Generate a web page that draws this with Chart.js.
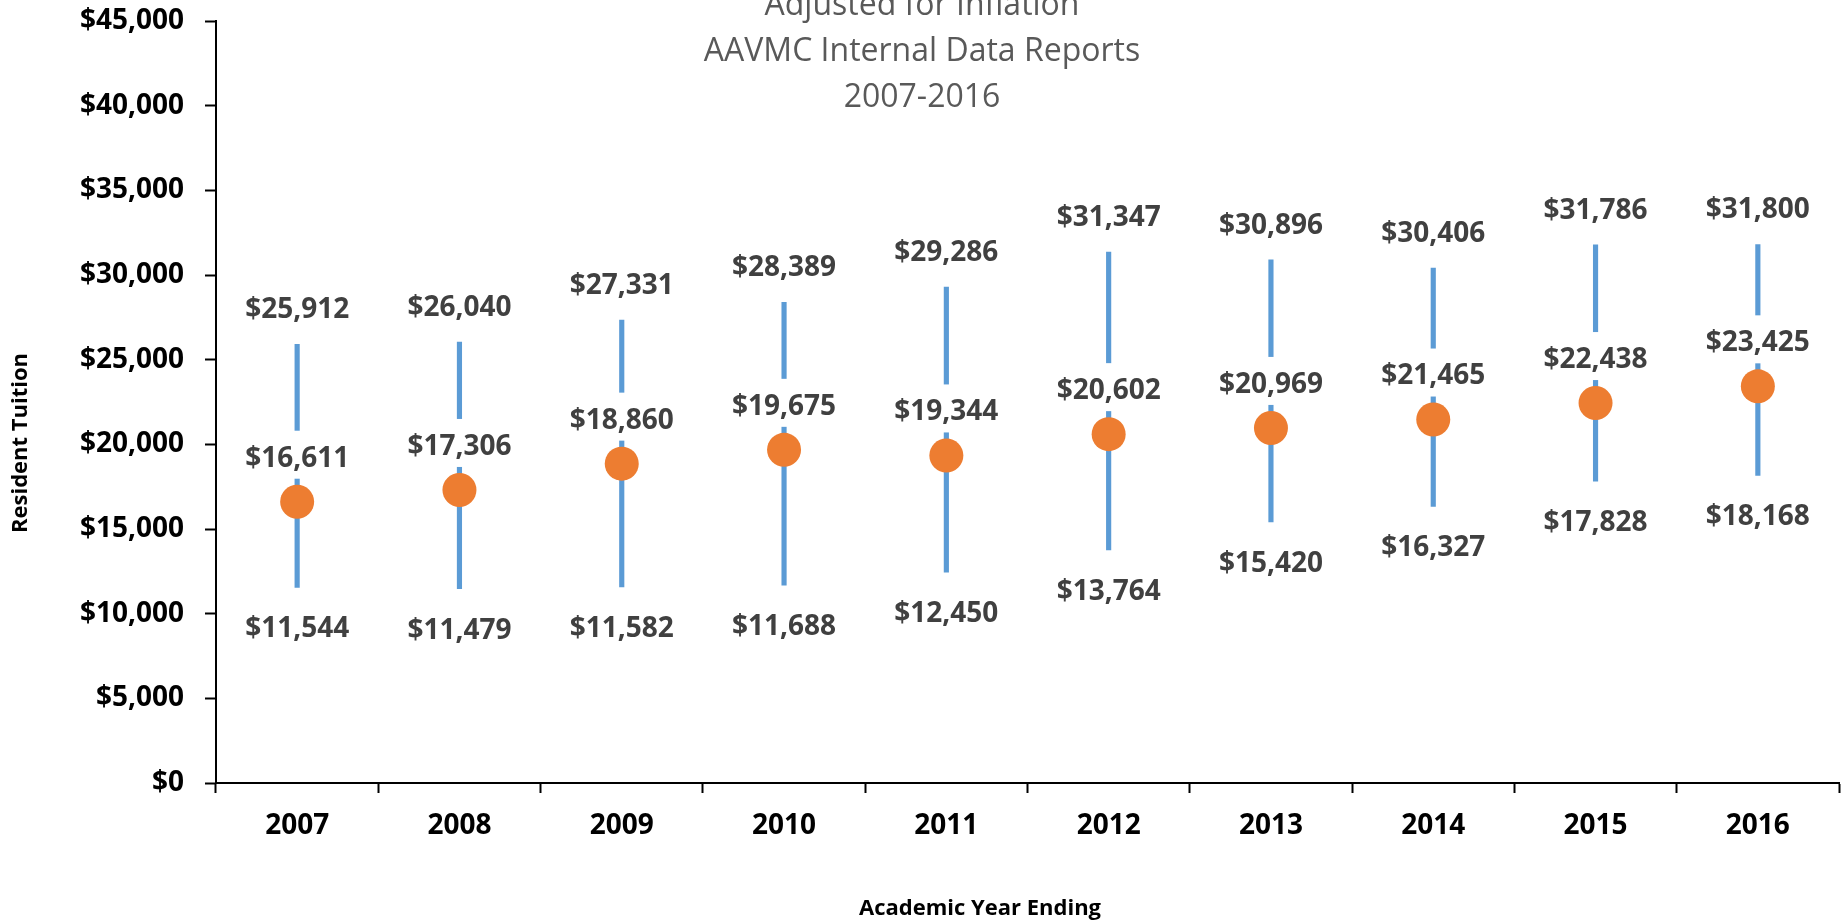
<!DOCTYPE html>
<html>
<head>
<meta charset="utf-8">
<script src="https://cdn.jsdelivr.net/npm/chart.js@4"></script>
<style>
  html, body { margin: 0; padding: 0; background: #fff; }
  #wrap { width: 1845px; height: 922px; }
</style>
</head>
<body>
<div id="wrap"><canvas id="chart" width="1845" height="922"></canvas></div>
<script>
// values
const years = ['2007', '2008', '2009', '2010', '2011', '2012', '2013', '2014', '2015', '2016'];
const highTuition = [25912, 26040, 27331, 28389, 29286, 31347, 30896, 30406, 31786, 31800];
const avgTuition = [16611, 17306, 18860, 19675, 19344, 20602, 20969, 21465, 22438, 23425];
const lowTuition = [11544, 11479, 11582, 11688, 12450, 13764, 15420, 16327, 17828, 18168];
const titleLines = ['Adjusted for Inflation', 'AAVMC Internal Data Reports', '2007-2016'];

const FONT = '"Open Sans", "Liberation Sans", sans-serif';

function money(v) {
  return '$' + Number(v).toLocaleString('en-US');
}

// high-low ranges as floating bars
let ranges = [];
for (let i = 0; i < years.length; i++) {
  ranges.push([lowTuition[i], highTuition[i]]);
}

// value labels + titles, drawn on top of the datasets
const labelPlugin = {
  id: 'labelPlugin',
  afterDatasetsDraw(chart) {
    const ctx = chart.ctx;
    const x = chart.scales.x;
    const y = chart.scales.y;
    ctx.save();
    ctx.font = 'bold 28px ' + FONT;
    ctx.textAlign = 'center';
    ctx.textBaseline = 'middle';
    for (let i = 0; i < years.length; i++) {
      let px = x.getPixelForValue(i);
      ctx.fillStyle = '#404040';
      ctx.fillText(money(highTuition[i]), px, y.getPixelForValue(highTuition[i]) - 34);
      ctx.fillText(money(lowTuition[i]), px, y.getPixelForValue(lowTuition[i]) + 42);

      // middle label sits on a white box that breaks the range line
      let txt = money(avgTuition[i]);
      let cy = y.getPixelForValue(avgTuition[i]) - 47;
      let w = ctx.measureText(txt).width + 10;
      ctx.fillStyle = '#ffffff';
      ctx.fillRect(px - w / 2, cy - 24, w, 48);
      ctx.fillStyle = '#404040';
      ctx.fillText(txt, px, cy + 4);
    }

    // chart title (runs off the top edge like the source)
    ctx.font = '32px ' + FONT;
    ctx.fillStyle = '#595959';
    ctx.textBaseline = 'alphabetic';
    titleLines.forEach(function(line, n) {
      ctx.fillText(line, 922, 15 + n * 46);
    });

    // axis titles
    ctx.fillStyle = '#000000';
    ctx.font = 'bold 22px ' + FONT;
    ctx.textBaseline = 'middle';
    ctx.fillText('Academic Year Ending', 980, 909);
    ctx.translate(21, 443);
    ctx.rotate(-Math.PI / 2);
    ctx.fillText('Resident Tuition', 0, 0);
    ctx.restore();
  }
};

new Chart(document.getElementById('chart'), {
  data: {
    labels: years,
    datasets: [
      {
        type: 'line',
        label: 'Average',
        data: avgTuition,
        showLine: false,
        pointRadius: 17,
        pointHoverRadius: 17,
        pointBackgroundColor: '#ED7D31',
        pointBorderWidth: 0,
        order: 0
      },
      {
        type: 'bar',
        label: 'Range',
        data: ranges,
        backgroundColor: '#5B9BD5',
        borderWidth: 0,
        borderSkipped: false,
        barThickness: 4.5,
        order: 1
      }
    ]
  },
  options: {
    responsive: false,
    animation: false,
    events: [],
    layout: {
      autoPadding: false,
      padding: { top: 21, right: 6, left: 0, bottom: 0 }
    },
    plugins: {
      legend: { display: false },
      tooltip: { enabled: false }
    },
    scales: {
      x: {
        type: 'category',
        offset: true,
        grid: {
          offset: true,
          drawOnChartArea: false,
          tickLength: 10,
          tickWidth: 2,
          tickColor: '#000'
        },
        border: { color: '#000', width: 2 },
        ticks: {
          color: '#000',
          padding: 16,
          maxRotation: 0,
          font: { family: FONT, size: 28, weight: 'bold' }
        },
        afterFit(scale) { scale.height = 139; }
      },
      y: {
        min: 0,
        max: 45000,
        grid: {
          drawOnChartArea: false,
          tickLength: 11,
          tickWidth: 2,
          tickColor: '#000'
        },
        border: { color: '#000', width: 2 },
        ticks: {
          stepSize: 5000,
          color: '#000',
          padding: 21,
          font: { family: FONT, size: 28, weight: 'bold' },
          callback: function(v) { return money(v); }
        },
        afterFit(scale) {
          scale.width = 216;
          scale.paddingTop = 0;
        }
      }
    }
  },
  plugins: [labelPlugin]
});
</script>
</body>
</html>
